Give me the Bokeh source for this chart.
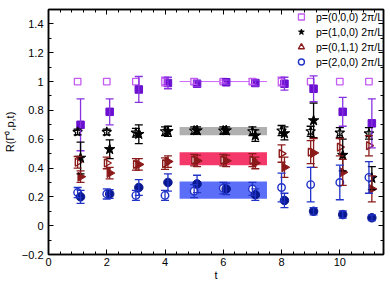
from bokeh.plotting import figure
from bokeh.models import (ColumnDataSource, Whisker, TeeHead, Legend, LegendItem,
                          LinearAxis, FixedTicker, Range1d)
from bokeh.embed import file_html
from bokeh.resources import INLINE

# ---------------- data ----------------
t = [1, 2, 3, 4, 5, 6, 7, 8, 9, 10, 11]

# p=(0,0,0)
sq_open = [1.0, 1.0, 1.0, 1.0, 1.0, 1.0, 1.0, 1.0, 1.0, 1.0, 1.0]
sq_open_err = [0.0, 0.0, 0.0, 0.03, 0.02, 0.01, 0.02, 0.03, 0.0, 0.0, 0.0]
sq_fill = [0.70, 0.79, 0.945, 0.99, 0.985, 0.995, 0.99, 0.985, 0.95, 0.79, 0.71]
sq_fill_err = [0.18, 0.09, 0.09, 0.04, 0.02, 0.015, 0.02, 0.045, 0.09, 0.10, 0.17]

# p=(1,0,0)
st_open = [0.65, 0.65, 0.645, 0.655, 0.66, 0.66, 0.655, 0.66, 0.655, 0.645, 0.64]
st_open_err = [0.02, 0.02, 0.03, 0.03, 0.025, 0.025, 0.03, 0.035, 0.035, 0.035, 0.04]
st_fill = [0.47, 0.53, 0.635, 0.655, 0.66, 0.66, 0.625, 0.64, 0.73, 0.49, 0.33]
st_fill_err = [0.11, 0.065, 0.065, 0.035, 0.025, 0.025, 0.04, 0.045, 0.12, 0.11, 0.08]

# p=(0,1,1)
tr_open = [0.44, 0.435, 0.425, 0.43, 0.455, 0.455, 0.455, 0.50, 0.51, 0.545, 0.555]
tr_open_err = [0.04, 0.04, 0.04, 0.04, 0.04, 0.04, 0.045, 0.06, 0.08, 0.06, 0.07]
tr_fill = [0.34, 0.365, 0.425, 0.445, 0.45, 0.45, 0.435, 0.405, 0.505, 0.37, 0.255]
tr_fill_err = [0.04, 0.04, 0.04, 0.04, 0.04, 0.04, 0.04, 0.07, 0.10, 0.09, 0.09]

# p=(2,0,0)
ci_open = [0.23, 0.22, 0.21, 0.21, 0.24, 0.26, 0.255, 0.265, 0.285, 0.30, 0.335]
ci_open_err = [0.035, 0.035, 0.035, 0.035, 0.045, 0.04, 0.045, 0.10, 0.12, 0.12, 0.11]
ci_fill = [0.20, 0.22, 0.265, 0.30, 0.29, 0.255, 0.215, 0.175, 0.10, 0.077, 0.055]
ci_fill_err = [0.045, 0.03, 0.055, 0.06, 0.06, 0.04, 0.04, 0.05, 0.025, 0.025, 0.02]

# plateau fits
fit_start = [4.5, 4.5, 4.5]
fit_end = [7.5, 7.5, 7.5]
fit_center = [0.656, 0.465, 0.247]
fit_err = [0.028, 0.045, 0.06]
fit_colors = ["#b0b0b0", "#f5386a", "#5b6ef7"]
fit000 = 1.0

legend_labels = ["p=(0,0,0) 2\u03c0/L", "p=(1,0,0) 2\u03c0/L",
                 "p=(0,1,1) 2\u03c0/L", "p=(2,0,0) 2\u03c0/L"]

x_ticks = [0, 2, 4, 6, 8, 10]
y_ticks = [-0.2, 0, 0.2, 0.4, 0.6, 0.8, 1, 1.2, 1.4]
y_tick_labels = ["\u22120.2", "0", "0.2", "0.4", "0.6", "0.8", "1", "1.2", "1.4"]
x_title = "t"
y_title = "R(\u0393\u2070,p,t)"

FILLED_SHIFT = 0.1
FONT = "Liberation Sans"

# ---------------- figure ----------------
p = figure(width=390, height=283, output_backend="svg", toolbar_location=None,
           x_range=Range1d(0, 11.5), y_range=Range1d(-0.2, 1.5),
           min_border_left=48, min_border_right=7, min_border_top=9, min_border_bottom=29)
p.background_fill_color = "white"
p.border_fill_color = "white"
p.grid.visible = False
p.outline_line_color = "black"
p.outline_line_width = 1.5

x_minor = [i * 0.4 for i in range(0, 29)]
y_minor = [round(-0.2 + i * 0.1, 2) for i in range(0, 17)]


def style_axis(ax, labels=True):
    ax.major_tick_in = 5
    ax.major_tick_out = 0
    ax.minor_tick_in = 3
    ax.minor_tick_out = 0
    ax.axis_line_width = 1.5
    ax.axis_line_color = "black"
    ax.major_tick_line_color = "black"
    ax.minor_tick_line_color = "black"
    ax.major_tick_line_width = 1
    ax.major_label_text_font = FONT
    ax.axis_label_text_font = FONT
    ax.axis_label_text_font_style = "normal"
    ax.major_label_text_color = "black"
    ax.axis_label_text_color = "black"
    if labels:
        ax.major_label_text_font_size = "11px"
        ax.axis_label_text_font_size = "11px"
    else:
        ax.major_label_text_font_size = "1px"
        ax.major_label_text_color = None
        ax.major_label_standoff = 0


p.xaxis.ticker = FixedTicker(ticks=x_ticks, minor_ticks=x_minor)
p.yaxis.ticker = FixedTicker(ticks=y_ticks, minor_ticks=y_minor)
p.yaxis.major_label_overrides = {v: s for v, s in zip(y_ticks, y_tick_labels)}
style_axis(p.xaxis[0])
style_axis(p.yaxis[0])
p.xaxis.axis_label = x_title
p.yaxis.axis_label = y_title
p.xaxis.major_label_standoff = 3
p.xaxis.axis_label_standoff = 0
p.yaxis.major_label_standoff = 5
p.yaxis.axis_label_standoff = 3

top_ax = LinearAxis(ticker=FixedTicker(ticks=x_ticks, minor_ticks=x_minor))
right_ax = LinearAxis(ticker=FixedTicker(ticks=y_ticks, minor_ticks=y_minor))
style_axis(top_ax, labels=False)
style_axis(right_ax, labels=False)
p.add_layout(top_ax, "above")
p.add_layout(right_ax, "right")

# fit bands
p.quad(left=fit_start, right=fit_end,
       bottom=[c - e for c, e in zip(fit_center, fit_err)],
       top=[c + e for c, e in zip(fit_center, fit_err)],
       fill_color=fit_colors, line_color=None)
p.line(x=[fit_start[0], fit_end[0]], y=[fit000, fit000], line_color="#cc66ff", line_width=1)


def make_src(y, shift):
    return ColumnDataSource(dict(x=[ti + shift for ti in t], y=y))


def err_bars(y, err, shift, color):
    keep = [i for i, e in enumerate(err) if e > 0]
    src = ColumnDataSource(dict(
        x=[t[i] + shift for i in keep],
        lo=[y[i] - err[i] for i in keep],
        hi=[y[i] + err[i] for i in keep]))
    w = Whisker(source=src, base="x", lower="lo", upper="hi", dimension="height",
                line_color=color, line_width=1.3,
                lower_head=TeeHead(size=8, line_color=color, line_width=1.3),
                upper_head=TeeHead(size=8, line_color=color, line_width=1.3),
                level="glyph")
    p.add_layout(w)


series = [
    (sq_open, sq_open_err, 0.0, "#c45cf2"),
    (sq_fill, sq_fill_err, FILLED_SHIFT, "#8833e0"),
    (st_open, st_open_err, 0.0, "black"),
    (st_fill, st_fill_err, FILLED_SHIFT, "black"),
    (tr_open, tr_open_err, 0.0, "#8b1a1a"),
    (tr_fill, tr_fill_err, FILLED_SHIFT, "#8b1a1a"),
    (ci_open, ci_open_err, 0.0, "#2233c8"),
    (ci_fill, ci_fill_err, FILLED_SHIFT, "#2233c8"),
]
for y, e, s, c in series:
    err_bars(y, e, s, c)

r_sq_o = p.scatter("x", "y", source=make_src(sq_open, 0.0), marker="square",
                   size=6.5, fill_color="white", line_color="#c45cf2", line_width=1.3)
r_sq_f = p.scatter("x", "y", source=make_src(sq_fill, FILLED_SHIFT), marker="square",
                   size=7.5, fill_color="#6a10d0", line_color="#6a10d0")
r_st_o = p.scatter("x", "y", source=make_src(st_open, 0.0), marker="star",
                   size=10, fill_color="white", line_color="black", line_width=1.2)
r_st_f = p.scatter("x", "y", source=make_src(st_fill, FILLED_SHIFT), marker="star",
                   size=11, fill_color="black", line_color="black")
r_tr_o = p.scatter("x", "y", source=make_src(tr_open, 0.0), marker="triangle",
                   angle=-1.5708, size=8, fill_color="white", line_color="#8b1a1a", line_width=1.4)
r_tr_f = p.scatter("x", "y", source=make_src(tr_fill, FILLED_SHIFT), marker="triangle",
                   angle=-1.5708, size=9, fill_color="#8b1a1a", line_color="#8b1a1a")
r_ci_o = p.scatter("x", "y", source=make_src(ci_open, 0.0), marker="circle",
                   size=7.5, fill_color="white", line_color="#2233c8", line_width=1.4)
r_ci_f = p.scatter("x", "y", source=make_src(ci_fill, FILLED_SHIFT), marker="circle",
                   size=8.5, fill_color="#0a1890", line_color="#0a1890")

legend = Legend(items=[LegendItem(label=legend_labels[0], renderers=[r_sq_o]),
                       LegendItem(label=legend_labels[1], renderers=[r_st_f]),
                       LegendItem(label=legend_labels[2], renderers=[r_tr_o]),
                       LegendItem(label=legend_labels[3], renderers=[r_ci_o])],
                location="top_right", margin=0, padding=5, spacing=0,
                border_line_color=None, background_fill_alpha=0,
                label_text_font=FONT, label_text_font_size="10.5px", label_text_color="black",
                glyph_width=16, glyph_height=15, label_height=15, label_standoff=7)
p.add_layout(legend)

open("out.html", "w").write(file_html(p, INLINE))
